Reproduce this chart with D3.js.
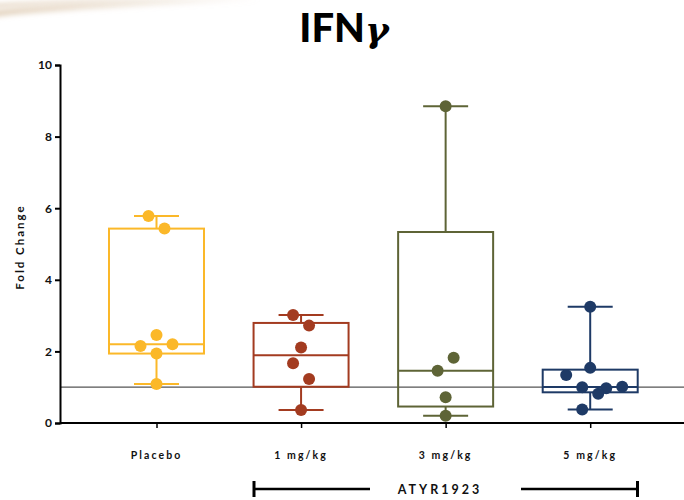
<!DOCTYPE html>
<html>
<head>
<meta charset="utf-8">
<script src="https://cdn.jsdelivr.net/npm/d3@7/dist/d3.min.js"></script>
<style>
  html, body { margin: 0; padding: 0; background: #fff; }
  svg { display: block; }
  text { font-family: Lato, "Open Sans", sans-serif; }
</style>
</head>
<body>
<svg id="chart" width="684" height="500"></svg>
<script>
// Fold change of IFN-gamma per treatment group
const categories = ["Placebo", "1 mg/kg", "3 mg/kg", "5 mg/kg"];
const placebo = [5.78, 5.43, 2.46, 2.15, 2.20, 1.94, 1.09];
const dose1 = [3.02, 2.72, 2.11, 1.67, 1.23, 0.36];
const dose3 = [8.85, 1.82, 1.46, 0.72, 0.20];
const dose5 = [3.25, 1.54, 1.34, 1.00, 0.97, 1.01, 0.82, 0.38];
// horizontal lane of each point in the scatter (half-dot steps)
const placeboLane = [-1, 1, 0, -2, 2, 0, 0];
const dose1Lane = [-1, 1, 0, -1, 1, 0];
const dose3Lane = [0, 1, -1, 0, 0];
const dose5Lane = [0, 0, -3, -1, 2, 4, 1, -1];
const yTicks = [0, 2, 4, 6, 8, 10];
const baseline = 1;
const colors = ["#FBB829", "#A33B20", "#5E6436", "#1E3A66"];

const groups = [placebo, dose1, dose3, dose5];
const lanes = [placeboLane, dose1Lane, dose3Lane, dose5Lane];

const svg = d3.select("#chart");
const W = 684;

// faint streak in the top-left corner of the slide
const defs = svg.append("defs");
const blur = defs.append("filter").attr("id", "soft").attr("x", "-20%").attr("y", "-200%").attr("width", "140%").attr("height", "500%");
blur.append("feGaussianBlur").attr("stdDeviation", 2.5);
const grad = defs.append("linearGradient").attr("id", "streak");
grad.append("stop").attr("offset", "0%").attr("stop-color", "#dcc7ad").attr("stop-opacity", 0.75);
grad.append("stop").attr("offset", "100%").attr("stop-color", "#dcc7ad").attr("stop-opacity", 0);
svg.append("path")
  .attr("d", "M-10,14 C60,6 150,2 260,-2")
  .attr("fill", "none").attr("stroke", "url(#streak)").attr("stroke-width", 7)
  .attr("filter", "url(#soft)");
svg.append("path")
  .attr("d", "M-10,6 C50,2 120,0 200,-4")
  .attr("fill", "none").attr("stroke", "url(#streak)").attr("stroke-width", 4)
  .attr("filter", "url(#soft)");

const y = d3.scaleLinear().domain([0, 10]).range([423, 65]);
const x = d3.scalePoint().domain(categories).range([156.5, 590.2]);
const axisX = 60;

// title
const title = svg.append("text")
  .attr("x", 344).attr("y", 42)
  .attr("text-anchor", "middle")
  .style("font-family", "Lato, sans-serif")
  .style("font-weight", 900)
  .style("font-size", "40px")
  .attr("fill", "#000");
title.append("tspan").text("IFN");
title.append("tspan")
  .style("font-family", "'DejaVu Serif', serif")
  .style("font-style", "italic")
  .style("font-weight", 700)
  .style("font-size", "36px")
  .text("γ");

// reference line at fold change = 1
svg.append("line")
  .attr("x1", axisX).attr("x2", W)
  .attr("y1", y(baseline)).attr("y2", y(baseline))
  .attr("stroke", "#555").attr("stroke-width", 1.3);

// y axis
const yAxis = svg.append("g")
  .attr("transform", `translate(${axisX},0)`)
  .call(d3.axisLeft(y).tickValues(yTicks).tickSize(5).tickPadding(3));
yAxis.select(".domain").attr("stroke", "#000").attr("stroke-width", 2);
yAxis.selectAll(".tick line").attr("stroke", "#000").attr("stroke-width", 2);
yAxis.selectAll(".tick text")
  .style("font-family", "Lato, sans-serif")
  .style("font-weight", 700).style("font-size", "12px").attr("fill", "#111");

// x axis
const xAxis = svg.append("g")
  .attr("transform", `translate(0,${y(0)})`)
  .call(d3.axisBottom(x).tickSize(5).tickSizeOuter(0).tickFormat(""));
xAxis.select(".domain").attr("d", `M${axisX},0H${W}`).attr("stroke", "#000").attr("stroke-width", 2);
xAxis.selectAll(".tick line").attr("stroke", "#000").attr("stroke-width", 1.5);

// category labels
svg.append("g").selectAll("text").data(categories).join("text")
  .attr("x", d => x(d)).attr("y", 459)
  .attr("text-anchor", "middle")
  .style("font-weight", 700).style("font-size", "10.5px")
  .style("letter-spacing", "2.1px")
  .attr("fill", "#111")
  .text(d => d);

// y axis title
svg.append("text")
  .attr("transform", "translate(24,247) rotate(-90)")
  .attr("text-anchor", "middle")
  .style("font-weight", 700).style("font-size", "11.5px")
  .style("letter-spacing", "2px")
  .attr("fill", "#111")
  .text("Fold Change");

// quartiles using the (n+1)p rule
function quartile(sorted, p) {
  const n = sorted.length;
  const pos = (n + 1) * p;
  const lo = Math.floor(pos);
  const f = pos - lo;
  if (lo < 1) return sorted[0];
  if (lo >= n) return sorted[n - 1];
  return sorted[lo - 1] + f * (sorted[lo] - sorted[lo - 1]);
}

const boxW = 95, capW = 45, r = 6, laneStep = 8;

groups.forEach((vals, i) => {
  const cx = x(categories[i]);
  const s = vals.slice().sort(d3.ascending);
  const q1 = quartile(s, 0.25), med = quartile(s, 0.5), q3 = quartile(s, 0.75);
  const lo = s[0], hi = s[s.length - 1];
  const g = svg.append("g").attr("stroke", colors[i]).attr("fill", "none").attr("stroke-width", 2);

  // whiskers and caps
  g.append("line").attr("x1", cx).attr("x2", cx).attr("y1", y(hi)).attr("y2", y(q3));
  g.append("line").attr("x1", cx).attr("x2", cx).attr("y1", y(q1)).attr("y2", y(lo));
  g.append("line").attr("x1", cx - capW / 2).attr("x2", cx + capW / 2).attr("y1", y(hi)).attr("y2", y(hi));
  g.append("line").attr("x1", cx - capW / 2).attr("x2", cx + capW / 2).attr("y1", y(lo)).attr("y2", y(lo));

  // box and median
  g.append("rect")
    .attr("x", cx - boxW / 2).attr("width", boxW)
    .attr("y", y(q3)).attr("height", y(q1) - y(q3));
  g.append("line").attr("x1", cx - boxW / 2).attr("x2", cx + boxW / 2).attr("y1", y(med)).attr("y2", y(med));

  // individual points
  svg.append("g").selectAll("circle").data(vals).join("circle")
    .attr("cx", (d, j) => cx + lanes[i][j] * laneStep)
    .attr("cy", d => y(d))
    .attr("r", r)
    .attr("fill", colors[i]);
});

// bracket spanning the ATYR1923 dose groups
const bx1 = 254, bx2 = 637.5, by = 489;
const br = svg.append("g").attr("stroke", "#000");
br.append("line").attr("x1", bx1).attr("x2", 370).attr("y1", by).attr("y2", by).attr("stroke-width", 2.5);
br.append("line").attr("x1", 521).attr("x2", bx2).attr("y1", by).attr("y2", by).attr("stroke-width", 2.5);
br.append("line").attr("x1", bx1).attr("x2", bx1).attr("y1", by - 8).attr("y2", by + 8).attr("stroke-width", 3);
br.append("line").attr("x1", bx2).attr("x2", bx2).attr("y1", by - 8).attr("y2", by + 8).attr("stroke-width", 3);
svg.append("text")
  .attr("x", 440).attr("y", by + 5)
  .attr("text-anchor", "middle")
  .style("font-weight", 700).style("font-size", "12.5px")
  .style("letter-spacing", "3px")
  .attr("fill", "#111")
  .text("ATYR1923");
</script>
</body>
</html>
